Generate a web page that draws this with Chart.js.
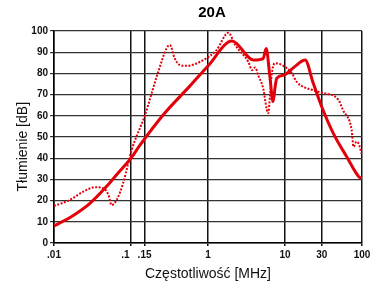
<!DOCTYPE html>
<html>
<head>
<meta charset="utf-8">
<script src="https://cdn.jsdelivr.net/npm/chart.js@4/dist/chart.umd.min.js"></script>
<style>
	html, body { margin: 0; padding: 0; background: #fff; }
	#wrap { width: 377px; height: 292px; }
</style>
</head>
<body>
<div id="wrap"><canvas id="Chart1" width="377" height="292"></canvas></div>
<script>
// values (frequency in MHz, attenuation in dB)
const freqSolid = [0.01, 0.0178, 0.0293, 0.048, 0.068, 0.1, 0.13, 0.263, 0.58, 1.0, 2.05, 3.89, 5.2, 5.7, 6.3, 7.0, 7.4, 7.8, 9.6, 13.4, 18.2, 23.3, 30, 42.4, 63.3, 91, 100];
const dbSolid = [8, 13, 18.7, 26.6, 33, 40, 46, 60.5, 74, 83.5, 95.3, 86.3, 87, 91.8, 80, 66.7, 73, 77.7, 79.2, 83.2, 86.3, 75.3, 64.3, 51.7, 40.7, 31.3, 30.5];

const freqDotted = [0.01, 0.016, 0.024, 0.034, 0.044, 0.051, 0.056, 0.065, 0.079, 0.092, 0.102, 0.152, 0.226, 0.29, 0.32, 0.37, 0.43, 0.53, 0.87, 1.29, 1.84, 2.25, 3.33, 3.75, 4.1, 4.5, 5.2, 5.8, 6.05, 6.4, 6.7, 7.4, 9.1, 12.3, 14.2, 23.3, 30, 49.5, 56.6, 73.4, 77.6, 85, 90, 100];
const dbDotted = [17.5, 20.3, 24.2, 26.3, 25.8, 22.6, 17.9, 20.3, 28.2, 37.6, 43.9, 60.4, 80.8, 91.8, 93.4, 87, 84, 83.6, 86.3, 91, 99.2, 93.4, 85.5, 81.5, 82.8, 79, 73, 63, 61.2, 70, 79.2, 84.8, 84, 80, 76, 72, 70.9, 67.5, 62.7, 53.3, 45.4, 47.8, 47, 41.5];

const xTicks = [0.01, 0.1, 0.15, 1, 10, 30, 100];
const xTickLabels = ['.01', '.1    ', '.15', '1', '10', '30', '100'];

const toPoints = (xs, ys) => xs.map((x, i) => ({x: x, y: ys[i]}));

// title drawn over the middle of the plot, like the original
const titlePlugin = {
	id: 'plotTitle',
	afterDraw(chart) {
		const ctx = chart.ctx;
		ctx.save();
		ctx.font = 'bold 15px "Liberation Sans", Arial, sans-serif';
		ctx.fillStyle = '#000';
		ctx.textAlign = 'center';
		ctx.textBaseline = 'middle';
		ctx.fillText('20A', 212, 13);
		ctx.restore();
	}
};

Chart.defaults.font.family = '"Liberation Sans", Arial, sans-serif';
Chart.defaults.color = '#111';

const ctx = document.getElementById('Chart1');
const myChart = new Chart(ctx, {
	type: 'line',
	data: {
		datasets: [{
			label: 'solid',
			data: toPoints(freqSolid, dbSolid),
			borderColor: '#e3000b',
			borderWidth: 3,
			pointRadius: 0,
			fill: false,
			cubicInterpolationMode: 'monotone'
		}, {
			label: 'dotted',
			data: toPoints(freqDotted, dbDotted),
			borderColor: '#e3000b',
			borderWidth: 2,
			borderDash: [2, 1.5],
			pointRadius: 0,
			fill: false,
			cubicInterpolationMode: 'monotone'
		}]
	},
	options: {
		responsive: false,
		animation: false,
		devicePixelRatio: 1,
		layout: { padding: { top: 31, right: 15, left: 0, bottom: 0 } },
		plugins: {
			legend: { display: false },
			tooltip: { enabled: false }
		},
		scales: {
			x: {
				type: 'logarithmic',
				min: 0.01,
				max: 100,
				afterBuildTicks: scale => {
					scale.ticks = xTicks.map(v => ({value: v}));
				},
				afterFit: scale => { scale.height = 49; },
				ticks: {
					autoSkip: false,
					maxRotation: 0,
					padding: 3,
					font: { size: 10, weight: 'bold' },
					callback: (value, index) => xTickLabels[index]
				},
				grid: {
					color: '#111',
					lineWidth: 1.5,
					tickLength: 3
				},
				border: { color: '#000', width: 1.5 },
				title: {
					display: true,
					text: 'Częstotliwość [MHz]',
					font: { size: 14 },
					color: '#111',
					padding: { top: 0, bottom: 9 }
				}
			},
			y: {
				min: 0,
				max: 100,
				afterFit: scale => { scale.width = 54; },
				ticks: {
					stepSize: 10,
					padding: 2,
					font: { size: 10, weight: 'bold' }
				},
				grid: {
					color: '#333',
					lineWidth: 1.2,
					tickLength: 4
				},
				border: { color: '#000', width: 1.5 },
				title: {
					display: true,
					text: 'Tłumienie [dB]     ',
					font: { size: 14 },
					color: '#111',
					padding: { top: 15, bottom: 0 }
				}
			}
		}
	},
	plugins: [titlePlugin]
});
</script>
</body>
</html>
